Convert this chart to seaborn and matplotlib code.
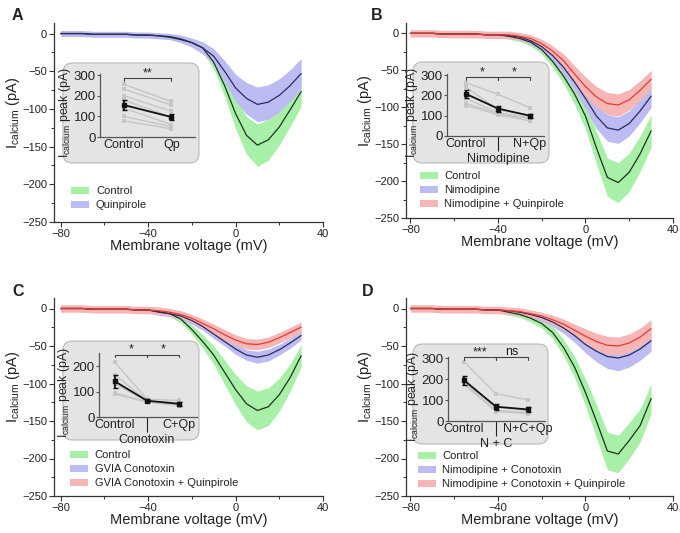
import numpy as np
import pandas as pd
import matplotlib
matplotlib.use("Agg")
import matplotlib.pyplot as plt
import matplotlib.patches as mpatches
import seaborn as sns

sns.set_style("ticks")
plt.rcParams['font.family'] = ['Liberation Sans', 'DejaVu Sans']
plt.rcParams['text.color'] = '#222222'
plt.rcParams['axes.labelcolor'] = '#222222'
plt.rcParams['xtick.color'] = '#222222'
plt.rcParams['ytick.color'] = '#222222'

# membrane voltage (mV)
volt = [-80, -75, -70, -65, -60, -55, -50, -45, -40, -35, -30, -25,
        -20, -15, -10, -5, 0, 5, 10, 15, 20, 25, 30]

# panel A: control / quinpirole (mean, sem)
a_ctrl = [0, 0, 0, -1, -1, -1, -1, -2, -2, -3, -5, -8, -12, -19, -38, -69, -106, -135, -148, -141, -124, -101, -77]
a_ctrl_sem = [3, 3, 3, 3, 3, 3, 3, 3, 3, 3, 3, 4, 4, 6, 9, 14, 20, 25, 28, 27, 24, 22, 20]
a_qp = [0, 0, 0, -1, -1, -1, -1, -2, -2, -3, -4, -7, -12, -19, -30, -50, -72, -86, -94, -91, -82, -69, -53]
a_qp_sem = [4, 4, 4, 4, 4, 4, 4, 4, 4, 4, 4, 5, 6, 8, 10, 14, 18, 21, 23, 23, 22, 21, 20]

# panel B: control / nimodipine / nimodipine + quinpirole
b_ctrl = [0, 0, 0, -1, -1, -1, -1, -2, -2, -4, -7, -12, -22, -38, -58, -82, -112, -155, -195, -202, -188, -163, -132]
b_ctrl_sem = [4, 4, 4, 4, 4, 4, 4, 4, 4, 4, 4, 5, 6, 8, 10, 14, 18, 22, 26, 27, 26, 24, 22]
b_nim = [0, 0, 0, -1, -1, -1, -1, -2, -2, -3, -5, -10, -18, -30, -46, -66, -88, -112, -128, -131, -122, -105, -85]
b_nim_sem = [4, 4, 4, 4, 4, 4, 4, 4, 4, 4, 4, 5, 6, 7, 9, 11, 14, 17, 18, 18, 17, 16, 15]
b_nqp = [0, 0, 0, -1, -1, -1, -1, -2, -2, -2, -4, -7, -14, -24, -37, -55, -72, -86, -95, -97, -90, -77, -62]
b_nqp_sem = [5, 5, 5, 5, 5, 5, 5, 5, 5, 5, 5, 5, 6, 7, 9, 11, 13, 14, 15, 15, 14, 13, 12]

# panel C: control / GVIA conotoxin / conotoxin + quinpirole
c_ctrl = [0, 0, 0, -1, -1, -1, -1, -2, -2, -4, -7, -14, -28, -44, -62, -85, -108, -127, -136, -131, -115, -92, -63]
c_ctrl_sem = [4, 4, 4, 4, 4, 4, 4, 4, 4, 4, 4, 5, 6, 9, 12, 16, 20, 24, 26, 25, 22, 18, 15]
c_cono = [0, 0, 0, -1, -1, -1, -1, -2, -2, -5, -7, -10, -16, -24, -34, -44, -54, -62, -65, -62, -55, -46, -36]
c_cono_sem = [4, 4, 4, 4, 4, 4, 4, 4, 4, 4, 4, 4, 5, 5, 6, 6, 7, 7, 8, 8, 7, 7, 6]
c_cqp = [0, 0, 0, -1, -1, -1, -1, -2, -2, -3, -5, -8, -13, -20, -27, -35, -42, -47, -48, -45, -39, -32, -25]
c_cqp_sem = [5, 5, 5, 5, 5, 5, 5, 5, 5, 5, 5, 5, 5, 6, 6, 7, 7, 7, 7, 7, 7, 7, 7]

# panel D: control / nimodipine + conotoxin / + quinpirole
d_ctrl = [0, 0, 0, -1, -1, -1, -1, -2, -2, -5, -8, -13, -20, -32, -52, -78, -112, -150, -190, -194, -176, -156, -120]
d_ctrl_sem = [4, 4, 4, 4, 4, 4, 4, 4, 4, 4, 4, 5, 6, 8, 11, 14, 18, 22, 25, 25, 24, 22, 20]
d_nc = [0, 0, 0, -1, -1, -1, -1, -2, -2, -3, -5, -8, -12, -18, -26, -36, -48, -57, -64, -66, -62, -54, -43]
d_nc_sem = [4, 4, 4, 4, 4, 4, 4, 4, 4, 4, 4, 4, 5, 6, 7, 9, 11, 14, 16, 17, 16, 15, 14]
d_ncq = [0, 0, 0, -1, -1, -1, -1, -2, -2, -3, -4, -7, -10, -15, -21, -29, -37, -44, -49, -50, -46, -38, -27]
d_ncq_sem = [5, 5, 5, 5, 5, 5, 5, 5, 5, 5, 5, 5, 5, 6, 7, 8, 10, 11, 12, 12, 12, 12, 12]

# inset peak currents, one list per condition (one entry per cell)
a_peak_ctrl = [255, 232, 200, 180, 140, 100, 78]
a_peak_qp = [172, 155, 125, 95, 60, 50, 40]
a_peak_mean = [155, 97]
a_peak_err = [25, 15]

b_peak_ctrl = [262, 240, 185, 160, 150]
b_peak_nim = [205, 130, 115, 110, 105]
b_peak_nqp = [140, 100, 90, 85, 75]
b_peak_mean = [207, 135, 100]
b_peak_err = [20, 15, 10]

c_peak_ctrl = [215, 165, 130, 95, 90]
c_peak_cono = [70, 65, 62, 60, 58]
c_peak_cqp = [65, 55, 50, 48, 45]
c_peak_mean = [140, 64, 52]
c_peak_err = [25, 5, 7]

d_peak_ctrl = [282, 200, 185, 175]
d_peak_nc = [130, 65, 50, 45]
d_peak_ncq = [100, 50, 40, 35]
d_peak_mean = [194, 68, 55]
d_peak_err = [22, 15, 12]

GREEN_BAND, GREEN_LINE = '#a8f0a8', '#1c331c'
BLUE_BAND, BLUE_LINE = '#bcbcf2', '#2b2b5e'
RED_BAND, RED_LINE = '#f6b6b6', '#e63a30'

W, H = 680, 533
fig = plt.figure(figsize=(W / 100, H / 100), dpi=100)


def px_rect(left, top, right, bottom):
    return [left / W, (H - bottom) / H, (right - left) / W, (bottom - top) / H]


def draw_main(rect, xlo, series, labels, leg_anchor):
    ax = fig.add_axes(rect)
    for (mean, sem, band, line) in series:
        lo = [m - s for m, s in zip(mean, sem)]
        hi = [m + s for m, s in zip(mean, sem)]
        ax.fill_between(volt, lo, hi, color=band, lw=0, zorder=1)
    for (mean, sem, band, line) in series:
        sns.lineplot(x=volt, y=mean, ax=ax, color=line, lw=0.9, zorder=3)
    ax.set_xlim(xlo, 40)
    ax.set_ylim(-250, 14)
    ax.set_xticks([-80, -40, 0, 40])
    ax.set_xticks([-60, -20, 20], minor=True)
    ax.set_yticks([-250, -200, -150, -100, -50, 0])
    ax.set_yticks([-225, -175, -125, -75, -25], minor=True)
    sns.despine(ax=ax)
    for s in ax.spines.values():
        s.set_color('#333333')
        s.set_linewidth(0.9)
    ax.tick_params(labelsize=8, length=3.5, width=0.8, color='#333333', pad=1.5)
    ax.tick_params(which='minor', length=2, width=0.7, color='#333333')
    ax.set_xlabel('Membrane voltage (mV)', fontsize=10.5, labelpad=0)
    ax.set_ylabel(r'I$_{\mathregular{calcium}}$ (pA)', fontsize=10.5, labelpad=0)
    ax.yaxis.label.set_y(0.55)
    handles = [mpatches.Patch(color=s[2], lw=0) for s in series]
    ax.legend(handles, labels, loc='lower left', bbox_to_anchor=leg_anchor,
              frameon=False, fontsize=8, handlelength=1.6, handleheight=0.6,
              handletextpad=0.6, labelspacing=0.35, borderpad=0, borderaxespad=0)
    return ax


def draw_inset(box, rect, xlim, cond_labels, mid_label, cells, means, errs, ylim, yticks, brackets):
    left, top, right, bottom = box
    patch = mpatches.FancyBboxPatch((left / W, (H - bottom) / H), (right - left) / W, (bottom - top) / H,
                                    boxstyle='round,pad=0,rounding_size=0.014',
                                    mutation_aspect=W / H, transform=fig.transFigure,
                                    facecolor='#e4e4e4', edgecolor='#b8b8b8', lw=0.8, zorder=1)
    fig.add_artist(patch)
    ax = fig.add_axes(rect)
    ax.set_zorder(2)
    ax.patch.set_alpha(0)
    rows = []
    for pos, vals in enumerate(cells):
        for cell, v in enumerate(vals):
            rows.append({'pos': pos, 'val': v, 'cell': cell})
    df = pd.DataFrame(rows)
    sns.lineplot(data=df, x='pos', y='val', units='cell', estimator=None, ax=ax,
                 color='#c6c6c6', lw=1.0, marker='s', markersize=3, markeredgewidth=0)
    ax.errorbar(range(len(means)), means, yerr=errs, color='#111111', lw=1.3,
                marker='s', ms=3.5, capsize=1.8, capthick=1, zorder=5)
    ax.set_xlim(*xlim)
    ax.set_ylim(*ylim)
    ax.set_yticks(yticks)
    ax.set_xticks(range(len(cond_labels)))
    ax.set_xticklabels(cond_labels)
    sns.despine(ax=ax)
    for s in ax.spines.values():
        s.set_color('#555555')
        s.set_linewidth(0.9)
    ax.tick_params(axis='y', labelsize=9.5, length=2, width=0.8, pad=1, color='#555555')
    ax.tick_params(axis='x', labelsize=9, length=0, pad=1.5)
    if mid_label:
        t = ax.xaxis.get_major_ticks()[1]
        t.tick1line.set_markersize(11)
        t.tick1line.set_markeredgewidth(0.8)
        t.tick1line.set_color('#555555')
        ax.annotate(mid_label, xy=(1, 0), xycoords=('data', 'axes fraction'),
                    xytext=(0, -12), textcoords='offset points',
                    ha='center', va='top', fontsize=9)
    ax.set_xlabel('')
    ax.set_ylabel(r'I$_{\mathregular{calcium}}$ peak (pA)', fontsize=8.8, labelpad=0.5)
    ax.yaxis.label.set_y(0.38)
    for (x0, x1, y, txt) in brackets:
        dy = (ylim[1] - ylim[0]) * 0.04
        ax.plot([x0, x0, x1, x1], [y - dy, y, y, y - dy], color='#444444', lw=0.8, clip_on=False)
        ax.text((x0 + x1) / 2, y - dy * 0.4, txt, ha='center', va='bottom', fontsize=9)
    return ax


# panel rectangles in pixels (left, top, right, bottom)
rect_a = px_rect(54, 23, 323, 222)
rect_b = px_rect(406, 23, 673, 218)
rect_c = px_rect(54, 298, 323, 496)
rect_d = px_rect(406, 298, 673, 496)

draw_main(rect_a, -83, [(a_ctrl, a_ctrl_sem, GREEN_BAND, GREEN_LINE),
                        (a_qp, a_qp_sem, BLUE_BAND, BLUE_LINE)],
          ['Control', 'Quinpirole'], (0.065, 0.06))
draw_main(rect_b, -82, [(b_ctrl, b_ctrl_sem, GREEN_BAND, GREEN_LINE),
                        (b_nim, b_nim_sem, BLUE_BAND, BLUE_LINE),
                        (b_nqp, b_nqp_sem, RED_BAND, RED_LINE)],
          ['Control', 'Nimodipine', 'Nimodipine + Quinpirole'], (0.052, 0.045))
draw_main(rect_c, -83, [(c_ctrl, c_ctrl_sem, GREEN_BAND, GREEN_LINE),
                        (c_cono, c_cono_sem, BLUE_BAND, BLUE_LINE),
                        (c_cqp, c_cqp_sem, RED_BAND, RED_LINE)],
          ['Control', 'GVIA Conotoxin', 'GVIA Conotoxin + Quinpirole'], (0.06, 0.04))
draw_main(rect_d, -82, [(d_ctrl, d_ctrl_sem, GREEN_BAND, GREEN_LINE),
                        (d_nc, d_nc_sem, BLUE_BAND, BLUE_LINE),
                        (d_ncq, d_ncq_sem, RED_BAND, RED_LINE)],
          ['Control', 'Nimodipine + Conotoxin', 'Nimodipine + Conotoxin + Quinpirole'], (0.045, 0.035))

draw_inset((63, 63, 199, 163), px_rect(100, 74, 195, 137), (-0.5, 1.5), ['Control', 'Qp'], None,
           [a_peak_ctrl, a_peak_qp], a_peak_mean, a_peak_err, (0, 305), [0, 100, 200, 300],
           [(0, 1, 284, '**')])
draw_inset((413, 62, 549, 163), px_rect(447, 74, 544, 136), (-0.6, 2.45), ['Control', '', 'N+Qp'], 'Nimodipine',
           [b_peak_ctrl, b_peak_nim, b_peak_nqp], b_peak_mean, b_peak_err, (0, 305), [0, 100, 200, 300],
           [(0, 1, 290, '*'), (1, 2, 290, '*')])
draw_inset((63, 341, 199, 440), px_rect(99, 353, 197, 417), (-0.5, 2.56), ['Control', '', 'C+Qp'], 'Conotoxin',
           [c_peak_ctrl, c_peak_cono, c_peak_cqp], c_peak_mean, c_peak_err, (0, 252), [0, 100, 200],
           [(0, 1, 246, '*'), (1, 2, 246, '*')])
draw_inset((413, 344, 548, 444), px_rect(448, 357, 545, 421), (-0.5, 2.53), ['Control', '', 'N+C+Qp'], 'N + C',
           [d_peak_ctrl, d_peak_nc, d_peak_ncq], d_peak_mean, d_peak_err, (0, 305), [0, 100, 200, 300],
           [(0, 1, 305, '***'), (1, 2, 305, 'ns')])

for letter, (x, y) in zip('ABCD', [(17, 15), (377, 15), (18, 291), (368, 291)]):
    fig.text(x / W, 1 - y / H, letter, fontsize=11.5, fontweight='bold', ha='center', va='center')

fig.savefig('out.png', dpi=100)
